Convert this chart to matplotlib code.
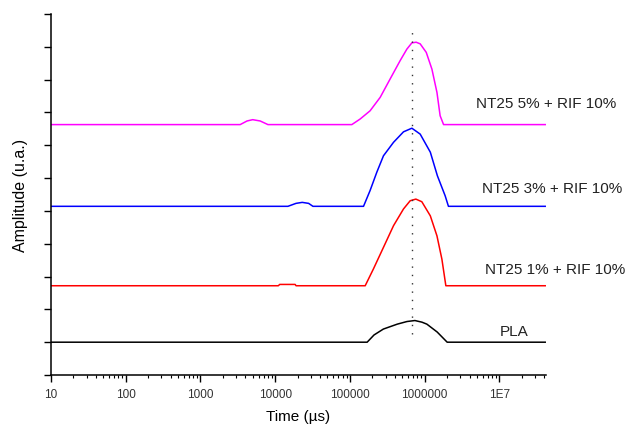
import numpy as np
import matplotlib.pyplot as plt
from matplotlib.ticker import LogLocator, FixedLocator, FixedFormatter, NullFormatter

plt.rcParams['font.family'] = ['Liberation Sans', 'DejaVu Sans']

# time axis in microseconds, stacked amplitude traces (arbitrary units, offset)
t_pla = [10, 1.7e5, 2.1e5, 2.8e5, 4.3e5, 5.8e5, 7.4e5, 9.2e5, 1.07e6, 1.47e6, 2.0e6, 4.1e7]
a_pla = [1.0, 1.0, 1.22, 1.40, 1.55, 1.63, 1.66, 1.61, 1.55, 1.31, 1.0, 1.0]

t_nt1 = [10, 1.1e4, 1.15e4, 1.85e4, 1.9e4, 1.60e5, 2.06e5, 2.81e5, 3.83e5, 5.21e5,
         6.40e5, 7.62e5, 9.16e5, 1.19e6, 1.46e6, 1.70e6, 1.92e6, 4.1e7]
a_nt1 = [2.72, 2.72, 2.76, 2.76, 2.72, 2.72, 3.23, 3.89, 4.55, 5.06,
         5.31, 5.36, 5.28, 4.85, 4.24, 3.53, 2.72, 2.72]

t_nt3 = [10, 1.48e4, 1.9e4, 2.3e4, 2.8e4, 3.2e4, 1.52e5, 1.86e5, 2.29e5, 2.81e5,
         3.83e5, 5.21e5, 6.74e5, 8.71e5, 1.19e6, 1.48e6, 1.88e6, 2.08e6, 4.1e7]
a_nt3 = [5.14, 5.14, 5.23, 5.26, 5.23, 5.14, 5.14, 5.62, 6.18, 6.68,
         7.09, 7.41, 7.52, 7.34, 6.79, 6.07, 5.46, 5.14, 5.14]

t_nt5 = [10, 3.4e3, 4.2e3, 5.0e3, 6.3e3, 8.0e3, 1.06e5, 1.37e5, 1.86e5, 2.54e5,
         3.45e5, 4.70e5, 5.78e5, 6.74e5, 7.69e5, 8.71e5, 1.05e6, 1.25e6, 1.46e6,
         1.61e6, 1.79e6, 4.1e7]
a_nt5 = [7.63, 7.63, 7.74, 7.78, 7.74, 7.63, 7.63, 7.80, 8.05, 8.46,
         9.02, 9.58, 9.93, 10.12, 10.14, 10.09, 9.83, 9.32, 8.61,
         7.90, 7.63, 7.63]

names = ['PLA', 'NT25 1% + RIF 10%', 'NT25 3% + RIF 10%', 'NT25 5% + RIF 10%']
colors = ['black', '#ff0000', '#0000ff', '#ff00ff']
times = [t_pla, t_nt1, t_nt3, t_nt5]
amps = [a_pla, a_nt1, a_nt3, a_nt5]
# right end / baseline of each trace label
label_x = [2.45e7, 4.8e8, 4.36e8, 3.62e8]
label_y = [1.23, 3.11, 5.585, 8.175]

peak_t = 6.7e5

x_ticks = [10, 100, 1000, 10000, 100000, 1000000, 10000000]
x_ticklabels = ['10', '100', '1000', '10000', '100000', '1000000', '1E7']

fig = plt.figure(figsize=(6.27, 4.27), dpi=100)
ax = fig.add_axes([0.0813, 0.1194, 0.7895, 0.8455])

for t, a, c, name, lx, ly in zip(times, amps, colors, names, label_x, label_y):
    ax.plot(t, a, color=c, lw=1.1, solid_joinstyle='round')
    ax.text(lx, ly, name, ha='right', va='baseline', fontsize=11,
            color='#222222', clip_on=False)

ax.plot([peak_t, peak_t], [1.25, 10.5], color='#333333', lw=1.0,
        linestyle=(0, (1, 5)))

ax.set_xscale('log')
ax.set_xlim(10, 4.2e7)
ax.set_ylim(0, 11)
ax.xaxis.set_major_locator(FixedLocator(x_ticks))
ax.xaxis.set_major_formatter(FixedFormatter(x_ticklabels))
ax.xaxis.set_minor_locator(LogLocator(base=10, subs=np.arange(2, 10)))
ax.xaxis.set_minor_formatter(NullFormatter())
ax.set_yticks(np.arange(0, 12))
ax.set_yticklabels([])

for side in ['top', 'right']:
    ax.spines[side].set_visible(False)
for side in ['left', 'bottom']:
    ax.spines[side].set_linewidth(1.1)
ax.tick_params(axis='both', which='major', direction='out', length=5, width=1.0)
ax.tick_params(axis='x', which='minor', direction='out', length=2.5, width=0.8)
ax.tick_params(axis='x', labelsize=8.5, pad=4.5, labelcolor='#333333')

ax.set_xlabel('Time (µs)', fontsize=11)
ax.set_ylabel('Amplitude (u.a.)', fontsize=11.5)
ax.xaxis.set_label_coords(0.5, -0.093)
ax.yaxis.set_label_coords(-0.046, 0.5)

fig.savefig('out.png', dpi=100)
